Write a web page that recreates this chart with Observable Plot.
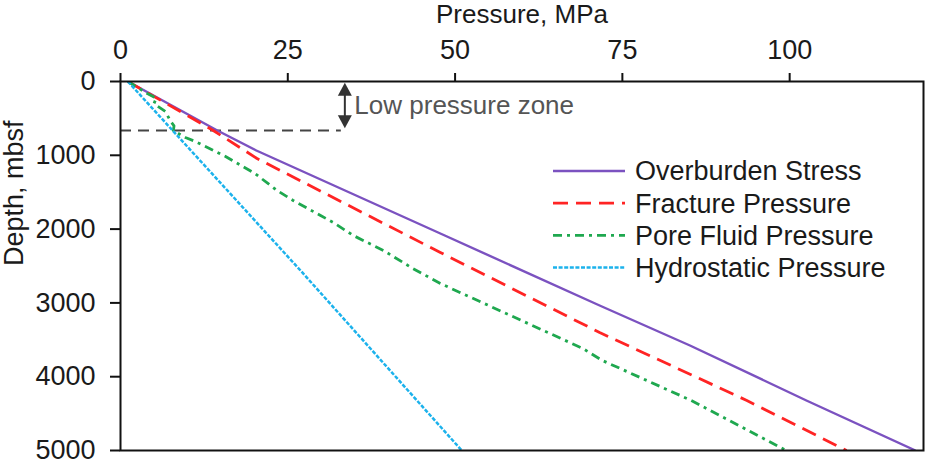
<!DOCTYPE html>
<html>
<head>
<meta charset="utf-8">
<script src="https://cdn.jsdelivr.net/npm/d3@7"></script>
<script src="https://cdn.jsdelivr.net/npm/@observablehq/plot@0.6"></script>
<style>
  html, body { margin: 0; padding: 0; background: #fff; }
  #chart svg { overflow: visible; }
</style>
</head>
<body>
<div id="chart"></div>
<script>
// ---- Data ----
const seriesNames = ["Overburden Stress", "Fracture Pressure", "Pore Fluid Pressure", "Hydrostatic Pressure"];

const overburdenDepth = [0, 660, 935, 2060, 3035, 3577, 4322, 5000];
const overburdenMPa   = [1.1, 14.4, 20.3, 47.8, 71.6, 85.1, 102.5, 118.8];

const fractureDepth = [0, 660, 1043, 2317, 3401, 4322, 5000];
const fractureMPa   = [1.1, 13.8, 20.4, 47.8, 71.6, 93.6, 108.5];

const poreDepth = [0, 163, 230, 257, 300, 406, 542, 600, 664, 759, 813, 1016, 1247, 1477, 1612, 1816, 1911, 2087, 2290, 2534, 2737, 3618, 3780, 4322, 5000];
const poreMPa   = [1.1, 4.0, 5.4, 5.2, 5.0, 6.7, 7.5, 8.0, 7.9, 9.7, 11.2, 15.7, 20.1, 23.4, 25.8, 29.9, 31.8, 34.8, 39.3, 43.7, 47.8, 69.1, 72.0, 85.3, 99.5];

const hydroDepth = [0, 2561, 5000];
const hydroMPa   = [1.1, 26.9, 51.0];

const xTicks = [0, 25, 50, 75, 100];
const yTicks = [0, 1000, 2000, 3000, 4000, 5000];

const lowZoneDepth = [664];      // dashed line depth, mbsf
const lowZoneLineEnd = [33];     // MPa where dashed line ends
const lowZoneArrowX = [33.6];    // MPa of double arrow
const lowZoneArrowTop = [25];
const lowZoneArrowBottom = [640];
const lowZoneLabel = ["Low pressure zone"];

// ---- Styles ----
const colors = ["#7b52c0", "#ff2424", "#1fa84f", "#1cb2ec"];
const dashes = [null, "15,8", "9,5,3,5", "4,1.6"];
const widths = [2.4, 2.8, 2.8, 2.5];
const FONT = "Liberation Sans, Arial, Helvetica, sans-serif";

// ---- Build table ----
const series = [
  [overburdenDepth, overburdenMPa],
  [fractureDepth, fractureMPa],
  [poreDepth, poreMPa],
  [hydroDepth, hydroMPa]
];
const rows = [];
series.forEach(([d, p], i) => d.forEach((dep, j) => rows.push({series: seriesNames[i], depth: dep, pressure: p[j], idx: i})));

const marks = [];
seriesNames.forEach((name, i) => {
  marks.push(Plot.line(rows.filter(r => r.idx === i), {
    x: "pressure", y: "depth",
    stroke: colors[i], strokeWidth: widths[i],
    strokeDasharray: dashes[i] || undefined,
    strokeLinecap: "butt",
    clip: true
  }));
});

const fig = Plot.plot({
  width: 925,
  height: 460,
  marginLeft: 120,
  marginRight: 2,
  marginTop: 81,
  marginBottom: 10,
  style: {fontFamily: FONT, fontSize: "27px", color: "#1a1a1a", background: "#fff", overflow: "visible"},
  x: {domain: [0, 120]},
  y: {domain: [0, 5000], reverse: true},
  marks: [
    // low pressure zone dashed line
    Plot.ruleY(lowZoneDepth, {x1: 0, x2: lowZoneLineEnd[0], stroke: "#444", strokeWidth: 2.2, strokeDasharray: "11,7"}),
    ...marks,
    Plot.text(lowZoneLabel, {x: lowZoneArrowX[0], y: (lowZoneArrowTop[0] + lowZoneArrowBottom[0]) / 2,
      text: d => d, textAnchor: "start", dx: 9, fill: "#555", fontSize: 26}),
    Plot.frame({stroke: "#111", strokeWidth: 2}),
    Plot.axisX(xTicks, {anchor: "top", tickSize: 9, tickPadding: 14, strokeWidth: 2, stroke: "#111", label: null, fill: "#1a1a1a", fontSize: 27}),
    Plot.axisY(yTicks, {anchor: "left", tickSize: 10, tickPadding: 15, strokeWidth: 2, stroke: "#111", label: null, fill: "#1a1a1a", fontSize: 27, tickFormat: d => String(d)}),
    Plot.text(["Pressure, MPa"], {frameAnchor: "top", dy: -59, lineAnchor: "bottom", text: d => d, fontSize: 26, fill: "#1a1a1a"}),
    Plot.text(["Depth, mbsf"], {frameAnchor: "left", dx: -98, rotate: -90, lineAnchor: "bottom", text: d => d, fontSize: 27, fill: "#1a1a1a"})
  ]
});

document.getElementById("chart").appendChild(fig);

// ---- Arrow heads (positioned through the plot's scales) ----
const sx = fig.scale("x"), sy = fig.scale("y");
const svg = d3.select(fig);
const ax = sx.apply(lowZoneArrowX[0]);
const yTop = sy.apply(lowZoneArrowTop[0]);
const yBot = sy.apply(lowZoneArrowBottom[0]);
const headLen = 13, headHalf = 7;
svg.append("path").attr("d", `M${ax},${yTop} L${ax - headHalf},${yTop + headLen} L${ax + headHalf},${yTop + headLen} Z`).attr("fill", "#333");
svg.append("path").attr("d", `M${ax},${yBot} L${ax - headHalf},${yBot - headLen} L${ax + headHalf},${yBot - headLen} Z`).attr("fill", "#333");
svg.append("line").attr("x1", ax).attr("x2", ax).attr("y1", yTop + headLen - 1).attr("y2", yBot - headLen + 1).attr("stroke", "#333").attr("stroke-width", 2);

// ---- Legend (inside the plot area) ----
const legX1 = 553, legX2 = 625, legTextX = 635, legY0 = 171, legDY = 32.2;
const leg = svg.append("g").attr("font-family", FONT).attr("font-size", 27).attr("fill", "#1a1a1a").attr("text-anchor", "start");
seriesNames.forEach((name, i) => {
  const y = legY0 + i * legDY;
  const ln = leg.append("line").attr("x1", legX1).attr("x2", legX2).attr("y1", y).attr("y2", y)
    .attr("stroke", colors[i]).attr("stroke-width", widths[i]);
  if (dashes[i]) ln.attr("stroke-dasharray", dashes[i]);
  leg.append("text").attr("x", legTextX).attr("y", y).attr("dy", "0.35em").text(name);
});
</script>
</body>
</html>
